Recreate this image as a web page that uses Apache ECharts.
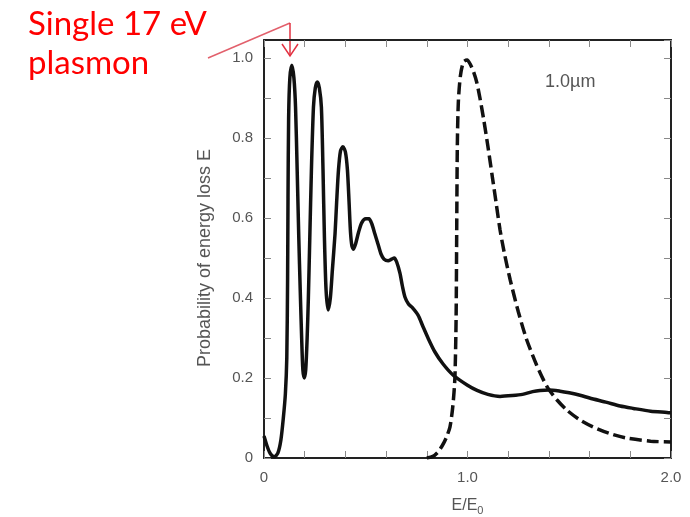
<!DOCTYPE html>
<html><head><meta charset="utf-8">
<script src="https://cdn.jsdelivr.net/npm/echarts@6/dist/echarts.min.js"></script>
<style>html,body{margin:0;padding:0;background:#fff}#c{width:690px;height:517px}</style>
</head><body><div id="c"></div>
<script>
// Tick labels
const xTickLabels = ['0', '1.0', '2.0'];          // shown at x = 0, 1, 2
const yTickLabels = ['0', '0.2', '0.4', '0.6', '0.8', '1.0'];
const annotationLines = ['Single 17 eV', 'plasmon'];
const thicknessLabel = '1.0\u00b5m';

// Solid curve: [E/E0, probability]
const solidCurve = [
  [0, 0.055], [0.015, 0.03], [0.03, 0.012], [0.05, 0.003], [0.068, 0.012], [0.083, 0.045],
  [0.095, 0.1], [0.105, 0.16], [0.112, 0.25], [0.116, 0.45], [0.118, 0.65], [0.121, 0.85],
  [0.127, 0.95], [0.137, 0.982], [0.147, 0.95], [0.155, 0.877], [0.163, 0.72], [0.171, 0.55],
  [0.178, 0.42], [0.185, 0.3], [0.191, 0.22], [0.198, 0.2], [0.205, 0.22], [0.212, 0.3],
  [0.218, 0.4], [0.225, 0.55], [0.233, 0.72], [0.243, 0.877], [0.252, 0.925], [0.262, 0.94],
  [0.272, 0.925], [0.282, 0.877], [0.29, 0.72], [0.297, 0.55], [0.305, 0.42], [0.315, 0.37],
  [0.326, 0.4], [0.336, 0.47], [0.349, 0.56], [0.357, 0.64], [0.366, 0.72], [0.376, 0.768],
  [0.388, 0.778], [0.4, 0.765], [0.41, 0.72], [0.418, 0.64], [0.425, 0.565], [0.432, 0.53],
  [0.44, 0.522], [0.45, 0.535], [0.465, 0.565], [0.48, 0.588], [0.5, 0.598], [0.516, 0.598],
  [0.53, 0.585], [0.545, 0.56], [0.56, 0.535], [0.575, 0.51], [0.59, 0.497], [0.61, 0.493],
  [0.627, 0.497], [0.64, 0.5], [0.652, 0.49], [0.668, 0.462], [0.68, 0.43], [0.693, 0.402],
  [0.71, 0.385], [0.727, 0.377], [0.757, 0.357], [0.78, 0.33], [0.806, 0.3], [0.84, 0.265],
  [0.88, 0.235], [0.93, 0.207], [1.0, 0.182],
  [1.047, 0.169], [1.1, 0.159], [1.16, 0.154], [1.22, 0.156], [1.27, 0.159], [1.32, 0.166],
  [1.356, 0.169], [1.4, 0.17], [1.455, 0.167], [1.5, 0.163], [1.553, 0.157], [1.6, 0.15],
  [1.685, 0.139], [1.75, 0.13], [1.815, 0.124], [1.9, 0.117], [1.98, 0.114], [2.0, 0.113]
];

// Dashed curve: [E/E0, probability]
const dashedCurve = [
  [0.8, 0], [0.83, 0.004], [0.855, 0.015], [0.875, 0.03], [0.895, 0.05], [0.914, 0.078],
  [0.928, 0.13], [0.938, 0.2], [0.944, 0.35], [0.947, 0.57], [0.95, 0.78], [0.955, 0.89],
  [0.965, 0.955], [0.98, 0.99], [0.998, 0.995], [1.015, 0.983], [1.03, 0.965], [1.045, 0.94],
  [1.06, 0.903], [1.08, 0.845], [1.1, 0.78], [1.12, 0.71], [1.14, 0.64], [1.16, 0.57],
  [1.18, 0.515], [1.21, 0.445], [1.25, 0.365], [1.29, 0.297], [1.34, 0.232], [1.39, 0.179],
  [1.44, 0.145], [1.49, 0.119], [1.55, 0.096], [1.62, 0.077], [1.7, 0.061], [1.78, 0.05],
  [1.9, 0.042], [2.0, 0.04]
];

const FONT = 'Liberation Sans, Arial, sans-serif';
const chart = echarts.init(document.getElementById('c'));

function near(v, k) { return Math.abs(v - k) < 1e-6; }
function xLabel(v) {
  for (let i = 0; i < xTickLabels.length; i++) if (near(v, i)) return xTickLabels[i];
  return '';
}
function yLabel(v) {
  for (let i = 0; i < yTickLabels.length; i++) if (near(v, i * 0.2)) return yTickLabels[i];
  return '';
}

const tickStyle = { show: true, inside: true, length: 7, lineStyle: { color: '#8a8a8a', width: 1 } };
const boxLine = { show: true, onZero: false, lineStyle: { color: '#222', width: 2 } };

chart.setOption({
  animation: false,
  backgroundColor: '#fff',
  grid: { left: 264, right: 19, top: 40, bottom: 59, containLabel: false, outerBoundsMode: 'none' },
  xAxis: [
    {
      type: 'value', min: 0, max: 2, interval: 0.2, position: 'bottom',
      axisLine: boxLine, axisTick: tickStyle, splitLine: { show: false },
      axisLabel: { formatter: xLabel, color: '#555', fontSize: 15, fontFamily: FONT, margin: 12 },
      name: '{a|E/E}{b|0}', nameLocation: 'middle', nameGap: 37,
      nameTextStyle: {
        rich: {
          a: { fontSize: 16, color: '#555', fontFamily: FONT },
          b: { fontSize: 11, color: '#555', fontFamily: FONT, padding: [10, 0, 0, 0] }
        }
      }
    },
    {
      type: 'value', min: 0, max: 2, interval: 0.2, position: 'top',
      axisLine: boxLine, axisTick: tickStyle, axisLabel: { show: false }, splitLine: { show: false }
    }
  ],
  yAxis: [
    {
      type: 'value', min: 0, max: 1.045, interval: 0.1, position: 'left',
      axisLine: boxLine, axisTick: tickStyle, splitLine: { show: false },
      axisLabel: { formatter: yLabel, color: '#555', fontSize: 15, fontFamily: FONT, margin: 11, showMaxLabel: false },
      name: 'Probability of energy loss E', nameLocation: 'middle', nameRotate: 90, nameGap: 50,
      nameTextStyle: { color: '#555', fontSize: 18, fontFamily: FONT, padding: [0, 18, 0, 0] }
    },
    {
      type: 'value', min: 0, max: 1.045, interval: 0.1, position: 'right',
      axisLine: boxLine, axisTick: tickStyle, axisLabel: { show: false }, splitLine: { show: false }
    }
  ],
  series: [
    {
      type: 'line', data: solidCurve, showSymbol: false, smooth: 0.25,
      lineStyle: { color: '#111', width: 3.5 }
    },
    {
      type: 'line', data: dashedCurve, showSymbol: false, smooth: 0.25,
      lineStyle: { color: '#111', width: 3.5, type: [12, 5] }
    }
  ],
  graphic: [
    { type: 'text', left: 28, top: 8, style: { text: annotationLines[0], fill: '#ff0000', font: '33px Lato, sans-serif' } },
    { type: 'text', left: 28, top: 47, style: { text: annotationLines[1], fill: '#ff0000', font: '33px Lato, sans-serif' } },
    { type: 'text', left: 545, top: 73, style: { text: thicknessLabel, fill: '#555', font: '18px ' + FONT } },
    { type: 'line', shape: { x1: 208, y1: 58, x2: 290, y2: 23 }, style: { stroke: '#e2606c', lineWidth: 1.5 } },
    { type: 'line', shape: { x1: 290, y1: 23, x2: 290, y2: 56 }, style: { stroke: '#e23040', lineWidth: 1.5 } },
    { type: 'polyline', shape: { points: [[282, 44], [290, 56], [298, 44]] }, style: { stroke: '#e23040', lineWidth: 1.5, fill: null } }
  ]
});
</script></body></html>
